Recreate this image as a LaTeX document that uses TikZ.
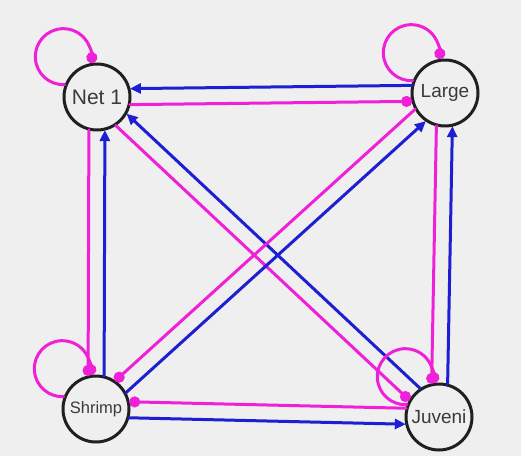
\documentclass[tikz,border=0pt]{standalone}
\usepackage{fontspec}
\setmainfont{Liberation Sans}
\usetikzlibrary{arrows.meta,calc}

\definecolor{bggray}{HTML}{EFEFEF}
\definecolor{linkpink}{HTML}{F020D8}
\definecolor{linkblue}{HTML}{1E1ED2}
\definecolor{ringgray}{HTML}{202020}
\definecolor{txtgray}{HTML}{3A3A3A}

\tikzset{
  species/.style={circle, draw=ringgray, line width=3pt, fill=bggray,
    minimum size=66pt, inner sep=0pt, text=txtgray},
  pinkedge/.style={draw=linkpink, line width=3pt, -{Circle[length=11pt]},
    shorten <=33pt, shorten >=33pt},
  blueedge/.style={draw=linkblue, line width=3pt, -{Triangle[length=11pt,width=10pt]},
    shorten <=33pt, shorten >=33pt},
  selfloop/.style={draw=linkpink, line width=3pt, -{Circle[length=11pt]}}
}

% coppia di archi paralleli: rosa da #1 a #2, blu da #2 a #1
\newcommand{\linkpair}[2]{%
  \draw[pinkedge] ($(#1)!8pt!-90:(#2)$) -- ($(#2)!8pt!90:(#1)$);
  \draw[blueedge] ($(#2)!8pt!-90:(#1)$) -- ($(#1)!8pt!90:(#2)$);
}

\begin{document}
\begin{tikzpicture}[x=1pt, y=1pt, line cap=round, line join=round]

% Sfondo
\fill[bggray] (0,0) rectangle (521,456);
\useasboundingbox (0,0) rectangle (521,456);

% Nodi
\node[species, font=\fontsize{21}{24}\selectfont] (net) at (97,359) {Net 1};
\node[species, font=\fontsize{19}{22}\selectfont] (large) at (445,363) {Large};
\node[species, font=\fontsize{16.5}{20}\selectfont] (shrimp) at (96,47) {Shrimp};
\node[species, font=\fontsize{19}{22}\selectfont] (juveni) at (439,39) {Juveni};

% Archi
\linkpair{net}{large}
\linkpair{net}{shrimp}
\linkpair{net}{juveni}
\linkpair{large}{shrimp}
\linkpair{large}{juveni}
\linkpair{juveni}{shrimp}

% Anelli
\draw[selfloop] (net.159) arc[start angle=273, end angle=-13, radius=28];
\draw[selfloop] (large.159) arc[start angle=273, end angle=-13, radius=28];
\draw[selfloop] (shrimp.159) arc[start angle=273, end angle=-13, radius=28];
\draw[selfloop] (juveni.159) arc[start angle=273, end angle=-13, radius=28];

\end{tikzpicture}
\end{document}
